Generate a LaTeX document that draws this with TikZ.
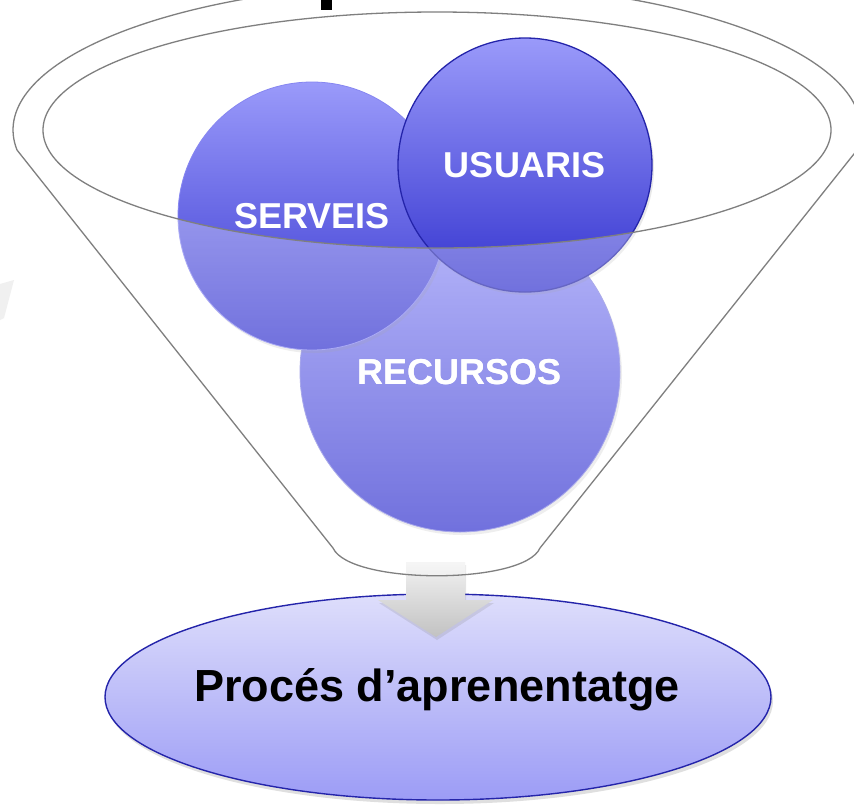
\documentclass[tikz,border=0pt]{standalone}
\usepackage{fontspec}
\setmainfont{Liberation Sans}
\usetikzlibrary{shapes.geometric,shadows}
\definecolor{ctop}{HTML}{9A9AFA}
\definecolor{cbot}{HTML}{3434CF}
\definecolor{fline}{HTML}{7F7F7F}
\definecolor{ubord}{HTML}{2424AA}
\definecolor{etop}{HTML}{DEDEFB}
\definecolor{ebot}{HTML}{9C9CF6}
\tikzset{
  ball/.style={circle, inner sep=0pt, shading=axis, top color=ctop, bottom color=cbot,
     text=white, font=\fontsize{36}{40}\selectfont\bfseries,
     drop shadow={opacity=0.18, shadow xshift=2pt, shadow yshift=-3pt}},
  funnelline/.style={draw=fline, line width=1.3pt},
}
\begin{document}
\begin{tikzpicture}[x=1pt,y=-1pt]
\useasboundingbox (0,0) rectangle (854,804);
\fill[white] (0,0) rectangle (854,804);
% faint watermark fragment
\fill[black!6] (0,284) -- (14,280) -- (4,318) -- (0,320) -- cycle;
% result ellipse
\node[ellipse, draw=ubord, line width=1.4pt, minimum width=666pt, minimum height=206pt, inner sep=0pt,
      shading=axis, top color=etop, bottom color=ebot,
      drop shadow={opacity=0.25, shadow xshift=2pt, shadow yshift=-4pt}] (proc) at (438,697) {};
\node[anchor=base, font=\fontsize{45}{50}\selectfont\bfseries, text=black] (proctext) at (437,701) {Procés d’aprenentatge};
% arrow
\coordinate (fbot) at (436,562);
\shade[top color=black!5, bottom color=black!24, drop shadow={opacity=0.2, shadow xshift=1pt, shadow yshift=-3pt}]
  (406,562) -- (465,562) -- (465,600) -- (493,600) -- (436,637) -- (378,600) -- (406,600) -- cycle;
% circles
\node[ball, minimum size=320pt, draw=cbot!60!white, line width=0.8pt] (rec) at (460,372) {RECURSOS};
\node[ball, minimum size=268pt, draw=ctop!80!cbot, line width=0.8pt] (ser) at (312,216) {SERVEIS};
\node[ball, minimum size=254pt, draw=ubord, line width=1.3pt] (usu) at (525,165) {USUARIS};
% funnel glass below the front rim
\fill[white, opacity=0.3, even odd rule]
  (17,150) arc[start angle=172.2, end angle=367.8, x radius=424, y radius=147]
  -- (540,548) .. controls (524,585) and (350,585) .. (333,548) -- cycle
  (437,130) ellipse [x radius=394, y radius=118];
% texts again on top of the glass
\node[text=white, font=\fontsize{36}{40}\selectfont\bfseries] (rect) at (rec.center) {RECURSOS};
% cut title glyph
\fill[black] (321,0) rectangle (332,10);
% funnel outline
\draw[funnelline, line join=round]
  (17,150) arc[start angle=172.2, end angle=367.8, x radius=424, y radius=147]
  -- (540,548) .. controls (524,585) and (350,585) .. (333,548) -- cycle;
\draw[funnelline] (437,130) ellipse [x radius=394, y radius=118];
\end{tikzpicture}
\end{document}
